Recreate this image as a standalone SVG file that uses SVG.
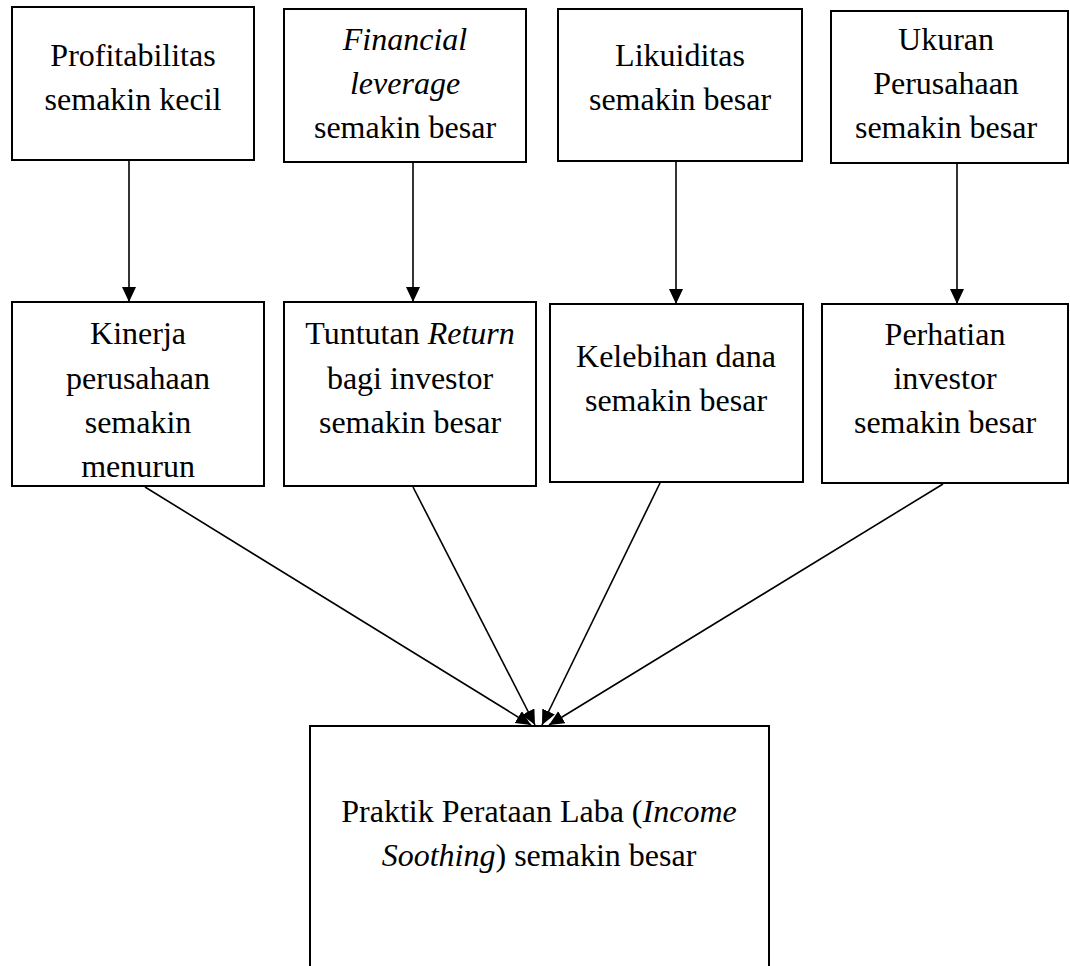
<svg xmlns="http://www.w3.org/2000/svg" width="1070" height="966" viewBox="0 0 1070 966">
<style>
rect{fill:#fff;stroke:#000;stroke-width:2}
text{font-family:"Liberation Serif","Times New Roman",serif;font-size:32px;fill:#000;text-anchor:middle}
.i{font-style:italic}
#connectors line{stroke:#000;stroke-width:1.6;marker-end:url(#ah)}
</style>
<defs>
<marker id="ah" markerUnits="userSpaceOnUse" markerWidth="16" markerHeight="16" refX="15" refY="7" orient="auto">
<path d="M0,0 L15,7 L0,14 z" fill="#000"/>
</marker>
</defs>
<rect x="0" y="0" width="1070" height="966" style="stroke:none"/>
<g id="connectors">
<line x1="129" y1="161" x2="129" y2="302"/>
<line x1="413" y1="163" x2="413" y2="302"/>
<line x1="676" y1="162" x2="676" y2="304"/>
<line x1="957" y1="164" x2="957" y2="304"/>
<line x1="145" y1="487" x2="531" y2="725"/>
<line x1="413" y1="487" x2="535" y2="725"/>
<line x1="660" y1="483" x2="542" y2="725"/>
<line x1="943" y1="484" x2="549" y2="725"/>
</g>
<g id="n1">
<rect x="12" y="7" width="242" height="153"/>
<text x="133" y="66">Profitabilitas</text>
<text x="133" y="110">semakin kecil</text>
</g>
<g id="n2">
<rect x="284" y="9" width="242" height="153"/>
<text x="405" y="50" class="i">Financial</text>
<text x="405" y="94" class="i">leverage</text>
<text x="405" y="138">semakin besar</text>
</g>
<g id="n3">
<rect x="558" y="9" width="244" height="152"/>
<text x="680" y="66">Likuiditas</text>
<text x="680" y="110">semakin besar</text>
</g>
<g id="n4">
<rect x="831" y="11" width="237" height="152"/>
<text x="946" y="50">Ukuran</text>
<text x="946" y="94">Perusahaan</text>
<text x="946" y="138">semakin besar</text>
</g>
<g id="n5">
<rect x="12" y="302" width="252" height="184"/>
<text x="138" y="344">Kinerja</text>
<text x="138" y="389">perusahaan</text>
<text x="138" y="433">semakin</text>
<text x="138" y="477">menurun</text>
</g>
<g id="n6">
<rect x="284" y="302" width="252" height="184"/>
<text x="410" y="344">Tuntutan <tspan class="i">Return</tspan></text>
<text x="410" y="389">bagi investor</text>
<text x="410" y="433">semakin besar</text>
</g>
<g id="n7">
<rect x="550" y="304" width="253" height="178"/>
<text x="676" y="367">Kelebihan dana</text>
<text x="676" y="411">semakin besar</text>
</g>
<g id="n8">
<rect x="822" y="304" width="246" height="179"/>
<text x="945" y="345">Perhatian</text>
<text x="945" y="389">investor</text>
<text x="945" y="433">semakin besar</text>
</g>
<g id="n9">
<rect x="310" y="726" width="459" height="250"/>
<text x="539" y="822">Praktik Perataan Laba (<tspan class="i">Income</tspan></text>
<text x="539" y="866"><tspan class="i">Soothing</tspan>) semakin besar</text>
</g>
</svg>
